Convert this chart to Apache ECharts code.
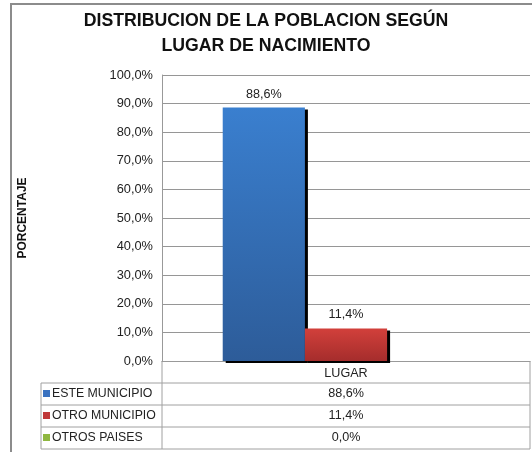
<!DOCTYPE html>
<html>
<head>
<meta charset="utf-8">
<script src="https://cdn.jsdelivr.net/npm/echarts@6/dist/echarts.min.js"></script>
<style>
  html, body { margin: 0; padding: 0; background: #fff; }
  #chart { width: 532px; height: 452px; }
</style>
</head>
<body>
<div id="chart"></div>
<script>
// data
var categories = ['LUGAR'];
var seriesNames = ['ESTE MUNICIPIO', 'OTRO MUNICIPIO', 'OTROS PAISES'];
var seriesValues = [[88.6], [11.4], [0.0]];
var yTicks = [0, 10, 20, 30, 40, 50, 60, 70, 80, 90, 100];

var colors = [
  new echarts.graphic.LinearGradient(0, 0, 0, 1, [
    { offset: 0, color: '#3a7fcf' }, { offset: 1, color: '#2d5c99' }
  ]),
  new echarts.graphic.LinearGradient(0, 0, 0, 1, [
    { offset: 0, color: '#d2403b' }, { offset: 1, color: '#a52d2c' }
  ]),
  '#8db43e'
];
var keyColors = ['#3a72c0', '#c0393a', '#8fb740'];

var font = 'Liberation Sans, Arial, sans-serif';
function fmt(v) { return v.toFixed(1).replace('.', ',') + '%'; }

// layout of plot and table
var gl = 162, gr = 530, gt = 75, gb = 361;
var tableLeft = 41, rowH = 22;

var chart = echarts.init(document.getElementById('chart'), null, { renderer: 'canvas' });

var series = seriesNames.map(function (name, i) {
  return {
    name: name,
    type: 'bar',
    data: seriesValues[i],
    barGap: '0%',
    barCategoryGap: '33%',
    itemStyle: {
      color: colors[i],
      shadowColor: '#000',
      shadowOffsetX: 3,
      shadowOffsetY: 2,
      shadowBlur: 0
    },
    label: {
      show: true,
      position: 'top',
      distance: 7,
      fontFamily: font,
      fontSize: 12.6,
      color: '#222',
      formatter: function (p) { return p.value > 0 ? fmt(p.value) : ''; }
    }
  };
});

// data table below the plot
var graphics = [];
var lineStyle = { stroke: '#a0a0a0', lineWidth: 1 };
// outer frame
graphics.push({ type: 'rect', shape: { x: 11, y: 4, width: 540, height: 470 },
  style: { fill: null, stroke: '#8c8c8c', lineWidth: 2 }, silent: true });
graphics.push({ type: 'line', shape: { x1: gr, y1: gb, x2: gr, y2: gb + rowH * 4 }, style: lineStyle });
graphics.push({ type: 'line', shape: { x1: gl, y1: gb, x2: gl, y2: gb + rowH * 4 }, style: lineStyle });
graphics.push({ type: 'line', shape: { x1: tableLeft, y1: gb + rowH, x2: tableLeft, y2: gb + rowH * 4 }, style: lineStyle });
for (var r = 1; r <= 4; r++) {
  graphics.push({ type: 'line', shape: { x1: tableLeft, y1: gb + rowH * r, x2: gr, y2: gb + rowH * r }, style: lineStyle });
}
seriesNames.forEach(function (name, i) {
  var cy = gb + rowH * (i + 1) + rowH / 2;
  graphics.push({ type: 'rect', shape: { x: 43, y: cy - 4, width: 7, height: 7 }, style: { fill: keyColors[i] } });
  graphics.push({ type: 'text', x: 52, y: cy, style: { text: name, font: '12.3px ' + font, fill: '#222', textVerticalAlign: 'middle' } });
  graphics.push({ type: 'text', x: (gl + gr) / 2, y: cy, style: { text: fmt(seriesValues[i][0]), font: '12.6px ' + font, fill: '#222', textAlign: 'center', textVerticalAlign: 'middle' } });
});

var option = {
  animation: false,
  title: {
    text: 'DISTRIBUCION DE LA POBLACION SEGÚN\nLUGAR DE NACIMIENTO',
    left: 'center',
    top: 4,
    padding: [5, 0, 5, 8],
    textStyle: { fontFamily: font, fontSize: 17.7, fontWeight: 'bold', color: '#111', lineHeight: 25 }
  },
  grid: { left: gl, right: 532 - gr, top: gt, bottom: 452 - gb, containLabel: false },
  xAxis: {
    type: 'category',
    data: categories,
    axisLine: { show: true, lineStyle: { color: '#999' } },
    axisTick: { show: false },
    axisLabel: { margin: 6, fontFamily: font, fontSize: 12.6, color: '#222' }
  },
  yAxis: {
    type: 'value',
    min: yTicks[0],
    max: yTicks[yTicks.length - 1],
    interval: 10,
    name: 'PORCENTAJE',
    nameLocation: 'middle',
    nameGap: 133,
    nameTextStyle: { fontFamily: font, fontSize: 12, fontWeight: 'bold', color: '#111' },
    axisLine: { show: true, lineStyle: { color: '#999' } },
    axisTick: { show: false },
    splitLine: { lineStyle: { color: '#969696' } },
    axisLabel: { margin: 9, fontFamily: font, fontSize: 12.8, color: '#222', formatter: function (v) { return fmt(v); } }
  },
  series: series,
  graphic: graphics
};
chart.setOption(option);
</script>
</body>
</html>
